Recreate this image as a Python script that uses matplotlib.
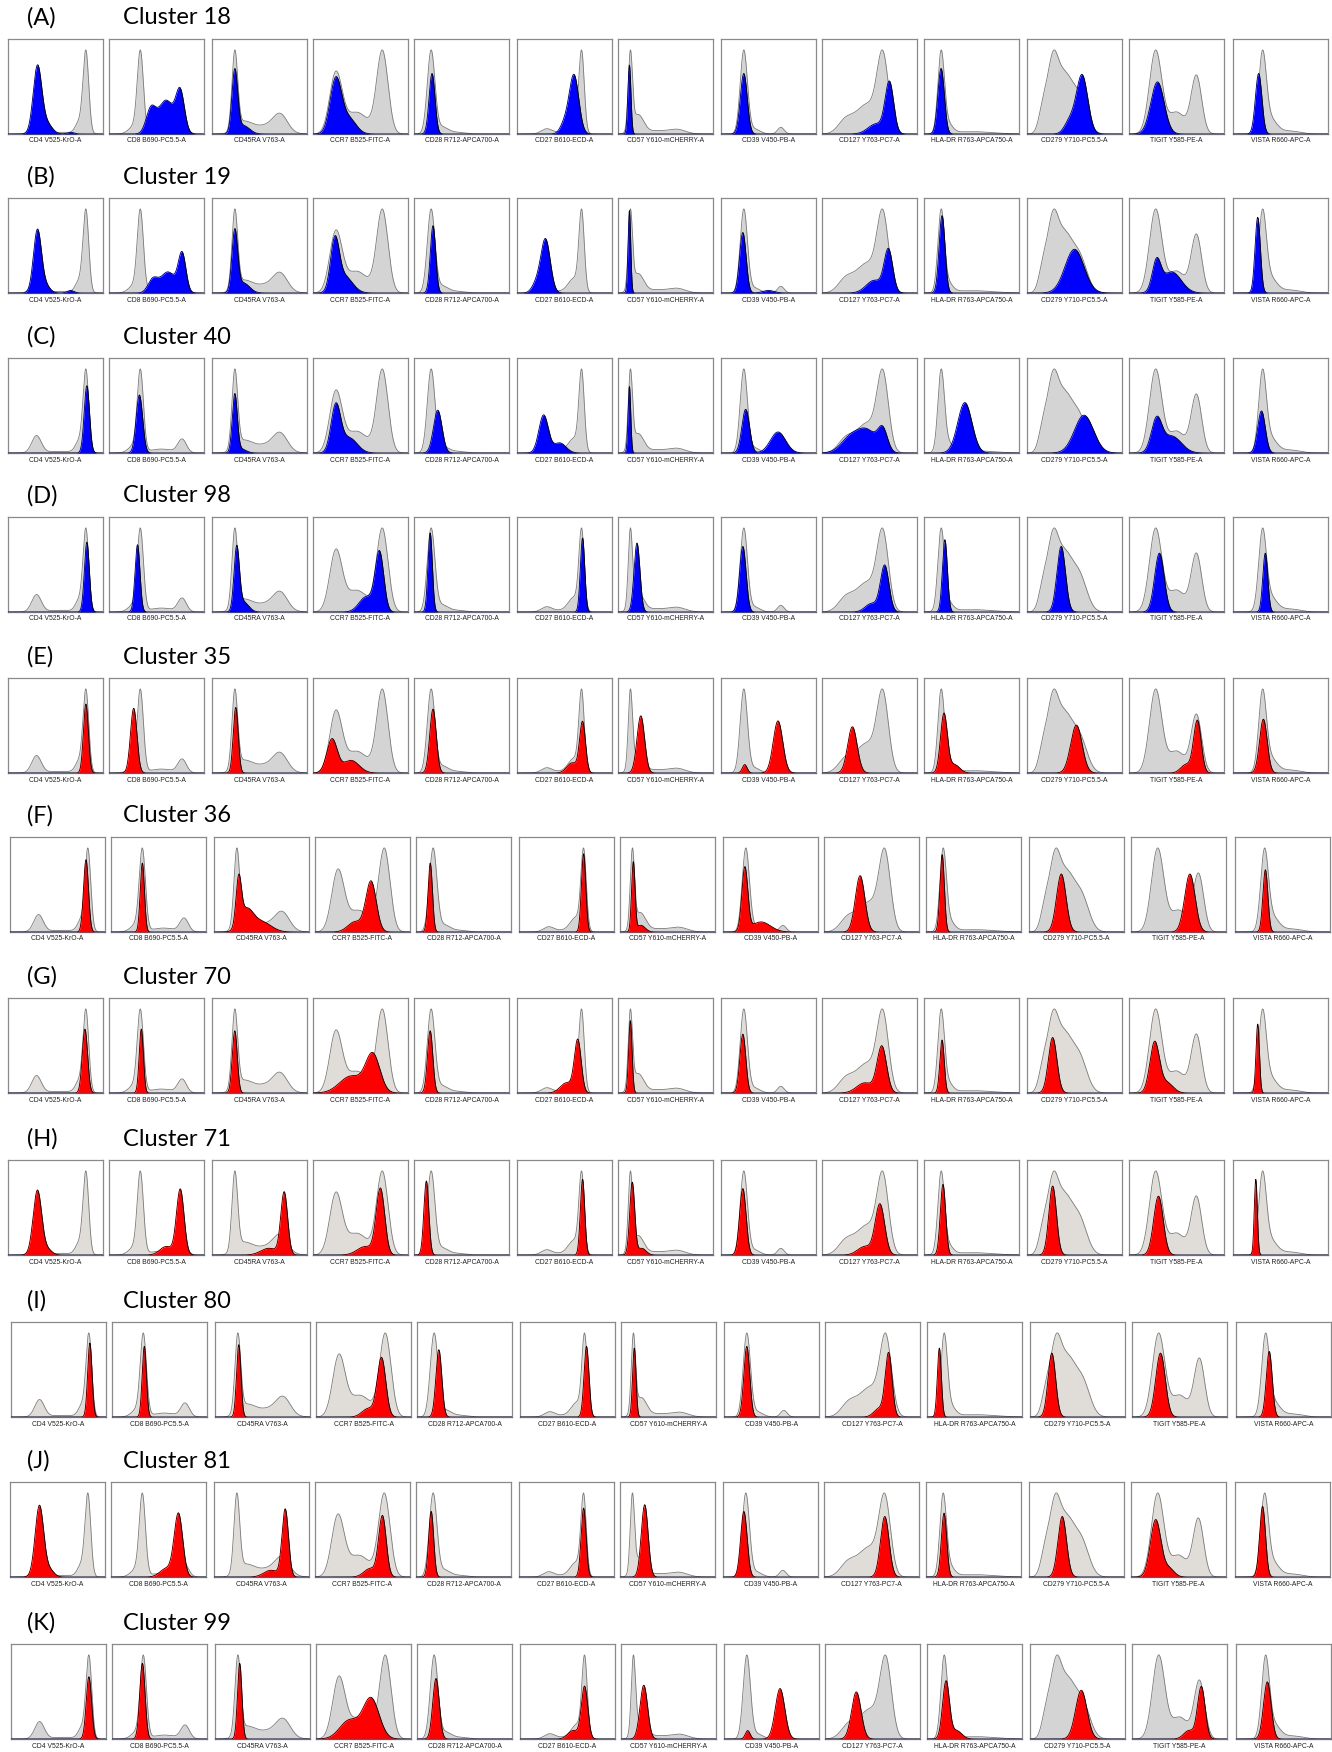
import numpy as np
import matplotlib
matplotlib.use("Agg")
import matplotlib.pyplot as plt

# ---------------- data ----------------
markers = ["CD4 V525-KrO-A", "CD8 B690-PC5.5-A", "CD45RA V763-A", "CCR7 B525-FITC-A",
           "CD28 R712-APCA700-A", "CD27 B610-ECD-A", "CD57 Y610-mCHERRY-A", "CD39 V450-PB-A",
           "CD127 Y763-PC7-A", "HLA-DR R763-APCA750-A", "CD279 Y710-PC5.5-A",
           "TIGIT Y585-PE-A", "VISTA R660-APC-A"]
row_letters = ["(A)", "(B)", "(C)", "(D)", "(E)", "(F)", "(G)", "(H)", "(I)", "(J)", "(K)"]
cluster_ids = [18, 19, 40, 98, 35, 36, 70, 71, 80, 81, 99]
cluster_color = ["blue", "blue", "blue", "blue", "red", "red", "red", "red", "red", "red", "red"]

# background (all cells) histogram peaks per marker: (position, width, height)
grey_peaks = [
    [(0.30, 0.05, 0.21), (0.82, 0.03, 1.0), (0.75, 0.04, 0.14), (0.55, 0.15, 0.02)],
    [(0.33, 0.032, 1.0), (0.27, 0.06, 0.10), (0.55, 0.12, 0.05), (0.77, 0.045, 0.17)],
    [(0.24, 0.03, 0.95), (0.33, 0.08, 0.12), (0.55, 0.15, 0.10), (0.72, 0.075, 0.20)],
    [(0.24, 0.065, 0.68), (0.46, 0.12, 0.25), (0.73, 0.06, 0.95)],
    [(0.18, 0.04, 1.0), (0.30, 0.06, 0.08), (0.45, 0.08, 0.02)],
    [(0.68, 0.028, 1.0), (0.60, 0.06, 0.18), (0.31, 0.055, 0.06), (0.45, 0.10, 0.02)],
    [(0.13, 0.022, 1.0), (0.21, 0.06, 0.25), (0.62, 0.09, 0.06), (0.40, 0.10, 0.04)],
    [(0.24, 0.038, 1.0), (0.35, 0.06, 0.06), (0.63, 0.035, 0.08)],
    [(0.64, 0.06, 0.90), (0.47, 0.11, 0.35), (0.25, 0.08, 0.16)],
    [(0.18, 0.034, 1.0), (0.25, 0.05, 0.12), (0.50, 0.20, 0.03)],
    [(0.27, 0.055, 0.75), (0.39, 0.08, 0.65), (0.55, 0.08, 0.42), (0.17, 0.045, 0.30)],
    [(0.28, 0.065, 0.95), (0.71, 0.055, 0.66), (0.50, 0.09, 0.25)],
    [(0.31, 0.04, 1.0), (0.39, 0.07, 0.20), (0.60, 0.10, 0.04)],
]

# cluster histogram peaks per row and marker: (position, width, height)
row_A = [[(0.31, 0.045, 0.80), (0.41, 0.055, 0.12), (0.66, 0.035, 0.02)],
         [(0.44, 0.05, 0.28), (0.60, 0.08, 0.40), (0.75, 0.045, 0.48)],
         [(0.24, 0.03, 0.74), (0.33, 0.065, 0.10)],
         [(0.24, 0.06, 0.65), (0.38, 0.075, 0.18)],
         [(0.19, 0.031, 0.72)],
         [(0.60, 0.05, 0.70), (0.50, 0.045, 0.12)],
         [(0.12, 0.016, 0.82)],
         [(0.24, 0.036, 0.72)],
         [(0.71, 0.045, 0.60), (0.57, 0.085, 0.12)],
         [(0.18, 0.034, 0.78)],
         [(0.58, 0.06, 0.70), (0.45, 0.055, 0.15)],
         [(0.30, 0.07, 0.62)],
         [(0.27, 0.034, 0.72)]]
row_B = [[(0.31, 0.042, 0.75), (0.40, 0.045, 0.08), (0.66, 0.035, 0.03)],
         [(0.46, 0.05, 0.15), (0.62, 0.08, 0.25), (0.77, 0.04, 0.45)],
         [(0.24, 0.03, 0.72), (0.33, 0.065, 0.12)],
         [(0.23, 0.045, 0.58), (0.33, 0.085, 0.20)],
         [(0.20, 0.028, 0.80)],
         [(0.30, 0.05, 0.64), (0.20, 0.045, 0.10)],
         [(0.12, 0.014, 0.98)],
         [(0.23, 0.034, 0.72), (0.50, 0.06, 0.03)],
         [(0.70, 0.045, 0.50), (0.55, 0.085, 0.15)],
         [(0.19, 0.031, 0.92)],
         [(0.50, 0.10, 0.52)],
         [(0.29, 0.045, 0.35), (0.45, 0.10, 0.25)],
         [(0.26, 0.028, 0.90)]]
row_C = [[(0.83, 0.028, 0.80)],
         [(0.32, 0.034, 0.69)],
         [(0.24, 0.026, 0.68), (0.30, 0.055, 0.05)],
         [(0.24, 0.05, 0.55), (0.38, 0.085, 0.18)],
         [(0.25, 0.045, 0.51)],
         [(0.28, 0.05, 0.45), (0.45, 0.065, 0.12)],
         [(0.12, 0.014, 0.79)],
         [(0.26, 0.04, 0.52), (0.60, 0.08, 0.25)],
         [(0.30, 0.10, 0.18), (0.48, 0.10, 0.25), (0.64, 0.05, 0.25)],
         [(0.43, 0.075, 0.60)],
         [(0.60, 0.10, 0.45)],
         [(0.29, 0.055, 0.38), (0.45, 0.10, 0.20)],
         [(0.30, 0.04, 0.50)]]
row_D = [[(0.83, 0.026, 0.83)],
         [(0.30, 0.026, 0.80)],
         [(0.26, 0.028, 0.74), (0.33, 0.055, 0.12)],
         [(0.70, 0.045, 0.70), (0.56, 0.075, 0.18)],
         [(0.17, 0.023, 0.94)],
         [(0.69, 0.023, 0.88)],
         [(0.20, 0.031, 0.82)],
         [(0.23, 0.034, 0.78)],
         [(0.66, 0.045, 0.55), (0.52, 0.065, 0.10)],
         [(0.22, 0.026, 0.86)],
         [(0.36, 0.045, 0.78)],
         [(0.32, 0.05, 0.70)],
         [(0.34, 0.026, 0.70)]]
row_E = [[(0.82, 0.026, 0.82)],
         [(0.26, 0.034, 0.77)],
         [(0.25, 0.026, 0.78)],
         [(0.20, 0.055, 0.40), (0.40, 0.085, 0.15)],
         [(0.20, 0.034, 0.76)],
         [(0.69, 0.031, 0.60), (0.58, 0.055, 0.12)],
         [(0.24, 0.04, 0.68)],
         [(0.60, 0.05, 0.62), (0.25, 0.025, 0.10)],
         [(0.32, 0.05, 0.55)],
         [(0.21, 0.036, 0.70), (0.32, 0.055, 0.10)],
         [(0.52, 0.06, 0.57)],
         [(0.72, 0.04, 0.62), (0.60, 0.055, 0.10)],
         [(0.32, 0.04, 0.64)]]
row_F = [[(0.80, 0.026, 0.86)],
         [(0.33, 0.022, 0.82)],
         [(0.26, 0.028, 0.55), (0.34, 0.07, 0.25), (0.50, 0.10, 0.12)],
         [(0.59, 0.055, 0.60), (0.42, 0.075, 0.12)],
         [(0.15, 0.023, 0.82)],
         [(0.68, 0.023, 0.93)],
         [(0.14, 0.018, 0.82), (0.22, 0.045, 0.08)],
         [(0.23, 0.031, 0.75), (0.40, 0.10, 0.12)],
         [(0.38, 0.05, 0.67)],
         [(0.17, 0.023, 0.92)],
         [(0.34, 0.05, 0.69)],
         [(0.62, 0.055, 0.69)],
         [(0.32, 0.026, 0.74)]]
row_G = [[(0.81, 0.028, 0.76)],
         [(0.34, 0.022, 0.76)],
         [(0.24, 0.026, 0.74)],
         [(0.63, 0.075, 0.45), (0.40, 0.12, 0.20)],
         [(0.17, 0.028, 0.74)],
         [(0.64, 0.036, 0.62), (0.52, 0.065, 0.12)],
         [(0.13, 0.018, 0.86)],
         [(0.23, 0.031, 0.70)],
         [(0.63, 0.05, 0.55), (0.45, 0.085, 0.12)],
         [(0.19, 0.023, 0.63)],
         [(0.27, 0.045, 0.66)],
         [(0.27, 0.05, 0.60), (0.40, 0.065, 0.12)],
         [(0.26, 0.018, 0.82)]]
row_H = [[(0.31, 0.045, 0.77), (0.42, 0.045, 0.06)],
         [(0.75, 0.04, 0.78), (0.60, 0.065, 0.10)],
         [(0.76, 0.036, 0.74), (0.60, 0.085, 0.08)],
         [(0.71, 0.045, 0.78), (0.55, 0.085, 0.10)],
         [(0.13, 0.026, 0.88)],
         [(0.69, 0.023, 0.90)],
         [(0.15, 0.026, 0.86), (0.25, 0.045, 0.08)],
         [(0.23, 0.034, 0.79)],
         [(0.61, 0.05, 0.60), (0.45, 0.075, 0.10)],
         [(0.20, 0.028, 0.84)],
         [(0.27, 0.04, 0.82)],
         [(0.31, 0.05, 0.70)],
         [(0.24, 0.016, 0.90)]]
row_I = [[(0.83, 0.023, 0.88)],
         [(0.34, 0.022, 0.84)],
         [(0.25, 0.023, 0.86)],
         [(0.69, 0.045, 0.70), (0.55, 0.065, 0.10)],
         [(0.23, 0.031, 0.80)],
         [(0.70, 0.026, 0.84)],
         [(0.14, 0.018, 0.82)],
         [(0.24, 0.031, 0.84)],
         [(0.67, 0.036, 0.75), (0.57, 0.055, 0.10)],
         [(0.13, 0.021, 0.82)],
         [(0.23, 0.04, 0.76)],
         [(0.30, 0.05, 0.76)],
         [(0.35, 0.031, 0.78)]]
row_J = [[(0.31, 0.045, 0.85), (0.42, 0.045, 0.08)],
         [(0.71, 0.045, 0.75), (0.58, 0.065, 0.10)],
         [(0.75, 0.034, 0.80), (0.60, 0.075, 0.08)],
         [(0.71, 0.04, 0.72), (0.58, 0.065, 0.10)],
         [(0.16, 0.026, 0.78)],
         [(0.68, 0.026, 0.82)],
         [(0.26, 0.036, 0.86)],
         [(0.22, 0.034, 0.78)],
         [(0.64, 0.045, 0.72)],
         [(0.19, 0.028, 0.76)],
         [(0.35, 0.045, 0.72)],
         [(0.26, 0.055, 0.68), (0.40, 0.055, 0.10)],
         [(0.29, 0.031, 0.84)]]
row_K = [[(0.82, 0.028, 0.74)],
         [(0.32, 0.028, 0.90)],
         [(0.26, 0.023, 0.90)],
         [(0.58, 0.085, 0.48), (0.35, 0.10, 0.22)],
         [(0.20, 0.034, 0.72)],
         [(0.68, 0.034, 0.62), (0.56, 0.055, 0.10)],
         [(0.24, 0.04, 0.64)],
         [(0.59, 0.05, 0.60), (0.25, 0.025, 0.10)],
         [(0.33, 0.05, 0.56)],
         [(0.20, 0.036, 0.68), (0.31, 0.055, 0.10)],
         [(0.54, 0.06, 0.58)],
         [(0.73, 0.04, 0.62), (0.60, 0.055, 0.10)],
         [(0.33, 0.04, 0.68)]]
cluster_peaks = [row_A, row_B, row_C, row_D, row_E, row_F, row_G, row_H, row_I, row_J, row_K]

# ---------------- layout (pixels) ----------------
W, H = 1332, 1752
DPI = 100
panel_left = [8, 109, 212, 313, 414, 517, 618, 721, 822, 924, 1027, 1129, 1233]
row_shift = [0, 0, 0, 0, 0, 2, 0, 0, 3, 2, 3]
row_top = [39, 198, 358, 517, 678, 837, 998, 1160, 1322, 1482, 1644]
PW, PH = 95, 95
grey_fill = ["#d4d4d4"] * 6 + ["#e0ddd8"] * 4 + ["#d4d4d4"]
fill_colors = {"blue": "#0000ff", "red": "#ff0000"}

fig = plt.figure(figsize=(W / DPI, H / DPI), dpi=DPI)
fig.patch.set_facecolor("white")

xs = np.linspace(0, 1, 500)


def hist_curve(peaks):
    y = np.zeros_like(xs)
    for m, s, h in peaks:
        y += h * np.exp(-0.5 * ((xs - m) / s) ** 2)
    return y


for r in range(len(row_letters)):
    top = row_top[r]
    fig.text(27 / W, 1 - (top - 21) / H, row_letters[r], fontsize=17,
             family="Lato", va="center", ha="left")
    fig.text(123 / W, 1 - (top - 21) / H, f"Cluster {cluster_ids[r]}", fontsize=17,
             family="Lato", va="center", ha="left")
    for c in range(len(markers)):
        left = panel_left[c] + row_shift[r]
        ax = fig.add_axes([left / W, 1 - (top + PH) / H, PW / W, PH / H])
        g = hist_curve(grey_peaks[c])
        g = g / g.max()
        k = hist_curve(cluster_peaks[r][c])
        ax.fill_between(xs, 0, g, color=grey_fill[r], lw=0, zorder=1)
        ax.plot(xs, g, color="#7a7a7a", lw=0.6, zorder=2)
        ax.fill_between(xs, 0, k, color=fill_colors[cluster_color[r]], lw=0, zorder=3)
        ax.plot(xs, k, color="black", lw=0.6, zorder=4)
        ax.set_xlim(0, 1)
        ax.set_ylim(0, 1.13)
        ax.set_xticks([])
        ax.set_yticks([])
        for sp in ax.spines.values():
            sp.set_color("#8a8a8a")
            sp.set_linewidth(0.9)
        ax.spines["bottom"].set_color("#6a6a8a")
        fig.text((left + PW / 2) / W, 1 - (top + PH + 7) / H, markers[c],
                 fontsize=4.9, family="Liberation Sans", ha="center", va="center",
                 color="#222222")

fig.savefig("out.png", dpi=DPI, facecolor="white")
